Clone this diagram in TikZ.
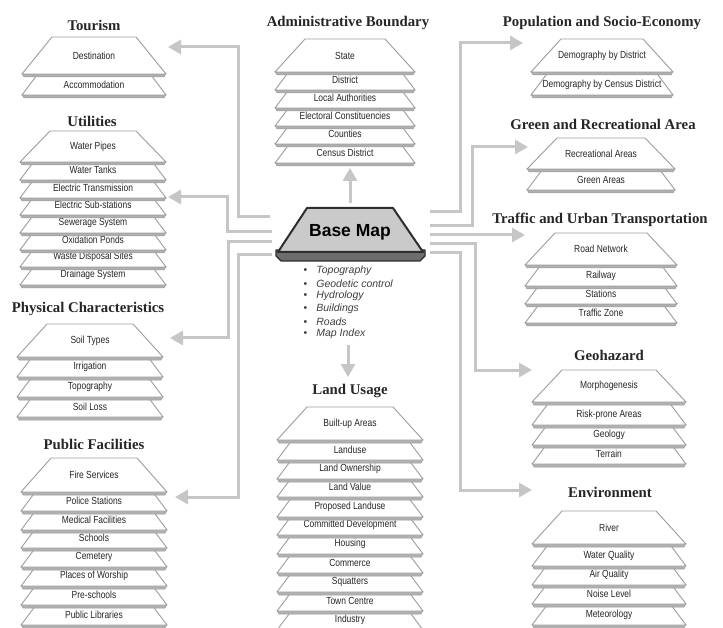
\documentclass[tikz,border=0pt]{standalone}
\usepackage{fontspec}
\setmainfont{Liberation Serif}
\setsansfont{Liberation Sans}
\newfontfamily\sheetfont[FakeStretch=0.82]{Liberation Sans}
\usetikzlibrary{arrows.meta}

\definecolor{linkgray}{HTML}{C6C6C6}
\definecolor{sheetedge}{HTML}{9C9C9C}
\definecolor{bandgray}{HTML}{B0B0B0}
\definecolor{mapfill}{HTML}{CACACA}
\definecolor{mapdark}{HTML}{6C6C6C}
\definecolor{mapedge}{HTML}{2E2E2E}

% #1 x centre, #2 half width, #3 y bottom
\newcommand{\sheetband}[3]{%
  \filldraw[band] (#1-#2,#3-0.5) -- (#1+#2,#3-0.5) -- (#1+#2-2,#3+3) -- (#1-#2+2,#3+3) -- cycle;}
% #1 name, #2 x centre, #3 half width, #4 y bottom, #5 text
\newcommand{\subsheet}[5]{%
  \sheetband{#2}{#3}{#4}
  \filldraw[sheet] (#2-#3,#4) -- (#2+#3,#4) -- (#2+#3-19.5,#4-26) -- (#2-#3+19.5,#4-26) -- cycle;
  \node[sheettext] (#1) at (#2,#4-10) {#5};}
% #1 name, #2 x centre, #3 half width, #4 y top, #5 y bottom, #6 text
\newcommand{\topsheet}[6]{%
  \sheetband{#2}{#3}{#5}
  \filldraw[sheet] (#2-#3,#5) -- (#2+#3,#5) -- (#2+#3-30,#4) -- (#2-#3+30,#4) -- cycle;
  \node[sheettext] (#1) at (#2,{(#4+#5)/2}) {#6};}

\begin{document}
\begin{tikzpicture}[x=1pt,y=-1pt,
  sheet/.style={fill=white,draw=sheetedge,line width=0.9pt,line join=round},
  band/.style={fill=bandgray,draw=sheetedge,line width=0.5pt},
  sheettext/.style={inner sep=0pt,text=black!85,font=\sheetfont\fontsize{10.3}{12}\selectfont},
  title/.style={inner sep=0pt,text=black!85,font=\bfseries\fontsize{14.8}{17}\selectfont},
  item/.style={anchor=west,inner sep=0pt,text=black!75,font=\sffamily\fontsize{10.5}{12}\selectfont},
  link/.style={draw=linkgray,line width=3pt,-{Triangle[length=13pt,width=14pt]}}]
\useasboundingbox (0,0) rectangle (723,628);
\fill[white] (0,0) rectangle (723,628);
\clip (0,0) rectangle (723,628);

% connectors
\foreach \nm/\ax/\ay/\turn/\bx/\by in {tour/270/217/238/168/47, util/272/232/227/168/197,%
   phys/272/242/228/170/338, pub/272/255/238/175/497,%
   pop/430/212/460/523/43, green/430/226/472/528/147,%
   geo/430/244/475/532/370, env/430/253/460/532/490}{
  \coordinate (\nm-from) at (\ax,\ay);
  \coordinate (\nm-to) at (\bx,\by);
  \draw[link] (\nm-from) -- (\turn,\ay) |- (\nm-to);
}
\coordinate (traf-from) at (430,235);
\coordinate (traf-to) at (525,235);
\draw[link] (traf-from) -- (traf-to);
\coordinate (admin-from) at (350,203);
\coordinate (admin-to) at (350,168);
\draw[link] (admin-from) -- (admin-to);
\coordinate (land-from) at (348,345);
\coordinate (land-to) at (348,377);
\draw[link] (land-from) -- (land-to);

% base map
\filldraw[fill=mapdark,draw=mapedge,line width=1.2pt,line join=round]
  (276,250) -- (425,250) -- (425,256) -- (420,261) -- (281,261) -- (276,256) -- cycle;
\filldraw[fill=mapfill,draw=mapedge,line width=2pt,line join=round]
  (278,252) -- (423,252) -- (393,208) -- (307,208) -- cycle;
\node[inner sep=0pt,font=\sffamily\bfseries\fontsize{17.5}{20}\selectfont] (base) at (350,232) {Base Map};
\foreach \txt [count=\i] in {Topography, Geodetic control, Hydrology, Buildings, Roads, Map Index}
  \node[item] (item-\i) at (303.5,258.4+12.6*\i) {\textbullet\hspace{9pt}\textit{\txt}};

% tourism
\node[title] (tour) at (94,25) {Tourism};
\foreach \yb/\txt [count=\i] in {95/Accommodation}
  {\subsheet{tour-\i}{94}{72}{\yb}{\txt}}
\topsheet{tour-top}{94}{72}{37}{74}{Destination}

% utilities
\node[title] (util) at (92,121) {Utilities};
\foreach \yb/\txt [count=\i] in {285/Drainage System, 267/Waste Disposal Sites, 250/Oxidation Ponds,%
   233/Sewerage System, 215/Electric Sub-stations, 198/Electric Transmission, 180/Water Tanks}
  {\subsheet{util-\i}{93}{73}{\yb}{\txt}}
\topsheet{util-top}{93}{73}{131}{162}{Water Pipes}

% physical characteristics
\node[title] (phys) at (88,309) {Physical Characteristics};
\foreach \yb/\txt [count=\i] in {417/Soil Loss, 397/Topography, 377/Irrigation}
  {\subsheet{phys-\i}{90}{73}{\yb}{\txt}}
\topsheet{phys-top}{90}{73}{324}{357}{Soil Types}

% public facilities
\node[title] (pub) at (94,444) {Public Facilities};
\foreach \yb/\txt [count=\i] in {625/Public Libraries, 605/Pre-schools, 586/Places of Worship, 567/Cemetery,%
   548/Schools, 530/Medical Facilities, 511/Police Stations}
  {\subsheet{pub-\i}{94}{73}{\yb}{\txt}}
\topsheet{pub-top}{94}{73}{458}{492}{Fire Services}

% administrative boundary
\node[title] (admin) at (348,23) {Administrative Boundary};
\foreach \yb/\txt [count=\i] in {163/Census District, 144/Counties, 126/Electoral Constituencies,%
   108/Local Authorities, 90/District}
  {\subsheet{admin-\i}{345}{70}{\yb}{\txt}}
\topsheet{admin-top}{345}{70}{39}{72}{State}

% land usage
\node[title] (land) at (350,391) {Land Usage};
\foreach \yb/\txt [count=\i] in {630/Industry, 611/Town Centre, 592/Squatters, 573/Commerce, 554/Housing,%
   535/Committed Development, 517/Proposed Landuse, 497/Land Value, 479/Land Ownership, 460/Landuse}
  {\subsheet{land-\i}{350}{73}{\yb}{\txt}}
\topsheet{land-top}{350}{73}{407}{440}{Built-up Areas}

% population and socio-economy
\node[title] (pop) at (602,23) {Population and Socio-Economy};
\foreach \yb/\txt [count=\i] in {95/Demography by Census District}
  {\subsheet{pop-\i}{602}{71}{\yb}{\txt}}
\topsheet{pop-top}{602}{71}{39}{72}{Demography by District}

% green and recreational area
\node[title] (green) at (603,124) {Green and Recreational Area};
\foreach \yb/\txt [count=\i] in {190/Green Areas}
  {\subsheet{green-\i}{601}{74}{\yb}{\txt}}
\topsheet{green-top}{601}{74}{138}{169}{Recreational Areas}

% traffic and urban transportation
\node[title] (traf) at (600,220) {Traffic and Urban Transportation};
\foreach \yb/\txt [count=\i] in {323/Traffic Zone, 304/Stations, 286/Railway}
  {\subsheet{traf-\i}{601}{76}{\yb}{\txt}}
\topsheet{traf-top}{601}{76}{233}{265}{Road Network}

% geohazard
\node[title] (geo) at (609,355) {Geohazard};
\foreach \yb/\txt [count=\i] in {464/Terrain, 445/Geology, 425/Risk-prone Areas}
  {\subsheet{geo-\i}{609}{77}{\yb}{\txt}}
\topsheet{geo-top}{609}{77}{370}{402}{Morphogenesis}

% environment
\node[title] (env) at (610,492) {Environment};
\foreach \yb/\txt [count=\i] in {625/Meteorology, 604/Noise Level, 585/Air Quality, 566/Water Quality}
  {\subsheet{env-\i}{609}{77}{\yb}{\txt}}
\topsheet{env-top}{609}{77}{511}{544}{River}
\end{tikzpicture}
\end{document}
